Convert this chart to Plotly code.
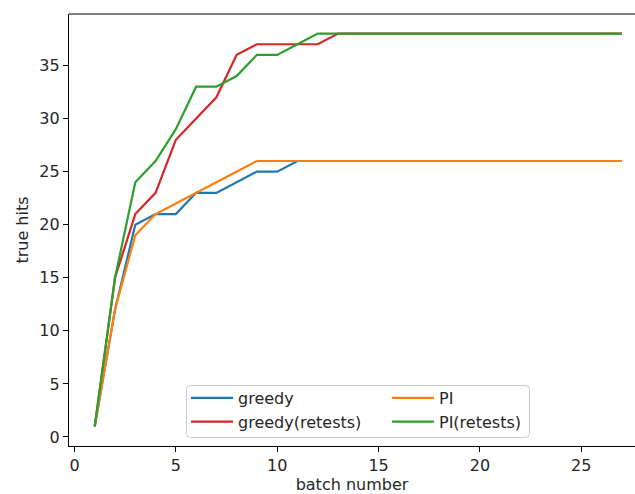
import plotly.graph_objects as go

# Cumulative true hits per batch for each selection strategy
batches = list(range(1, 28))
greedy = [1, 12, 20, 21, 21, 23, 23, 24, 25, 25, 26] + [26] * 16
greedy_retests = [1, 15, 21, 23, 28, 30, 32, 36, 37, 37, 37, 37, 38] + [38] * 14
pi = [1, 12, 19, 21, 22, 23, 24, 25, 26] + [26] * 18
pi_retests = [1, 15, 24, 26, 29, 33, 33, 34, 36, 36, 37, 38] + [38] * 15

x_ticks = [0, 5, 10, 15, 20, 25]
y_ticks = [0, 5, 10, 15, 20, 25, 30, 35]

W, H = 635, 494
L, T, B = 69, 14, 48
PW, PH = W - L, H - T - B
FONT = "DejaVu Sans"
FS = 16


def px(xp):
    return (xp - L) / PW


def py(yp):
    return (H - B - yp) / PH


series = [
    ("greedy", greedy, "#1f77b4", "legend", 1),
    ("greedy(retests)", greedy_retests, "#d62728", "legend", 2),
    ("PI", pi, "#ff7f0e", "legend2", 1),
    ("PI(retests)", pi_retests, "#2ca02c", "legend2", 2),
]

fig = go.Figure()
for name, vals, color, leg, rank in series:
    fig.add_trace(go.Scatter(
        x=batches, y=vals, mode="lines", name=name,
        line=dict(color=color, width=2.2),
        legend=leg, legendrank=rank,
    ))

# Rounded legend frame spanning both legend columns
x0, x1, y0, y1, r = px(186.5), px(529.5), py(385.5), py(437.5), 4
rx, ry = r / PW, r / PH
path = (f"M {x0+rx},{y0} L {x1-rx},{y0} Q {x1},{y0} {x1},{y0-ry} "
        f"L {x1},{y1+ry} Q {x1},{y1} {x1-rx},{y1} "
        f"L {x0+rx},{y1} Q {x0},{y1} {x0},{y1+ry} "
        f"L {x0},{y0-ry} Q {x0},{y0} {x0+rx},{y0} Z")
fig.add_shape(type="path", path=path, xref="paper", yref="paper",
              line=dict(color="#cccccc", width=1),
              fillcolor="rgba(255,255,255,0.8)", layer="above")

leg_common = dict(
    orientation="v", xanchor="left", yanchor="top",
    bgcolor="rgba(0,0,0,0)", borderwidth=0, itemwidth=42,
    font=dict(family=FONT, size=FS, color="#262626"),
    tracegroupgap=0,
)

axis_common = dict(
    showgrid=False, zeroline=False, showline=True, linecolor="black",
    linewidth=1.2, ticks="outside", ticklen=5, tickwidth=1.2,
    tickcolor="black", tickfont=dict(family=FONT, size=FS, color="#262626"),
)

fig.update_layout(
    width=W, height=H,
    margin=dict(l=L, r=0, t=T, b=B),
    plot_bgcolor="white", paper_bgcolor="white",
    showlegend=True,
    legend=dict(x=px(186), y=py(381), **leg_common),
    legend2=dict(x=px(387), y=py(381), **leg_common),
    xaxis=dict(range=[-0.27, 27.65], tickvals=x_ticks, mirror=False,
               title=dict(text="batch number", standoff=4,
                          font=dict(family=FONT, size=FS, color="#262626")),
               **axis_common),
    yaxis=dict(range=[-0.85, 39.85], tickvals=y_ticks,
               title=dict(text="true hits", standoff=6,
                          font=dict(family=FONT, size=FS, color="#262626")),
               **axis_common),
)
# Top frame line
fig.add_shape(type="line", xref="paper", yref="paper", x0=0, x1=1, y0=1, y1=1,
              line=dict(color="black", width=1.2))

fig.write_html("out.html")
